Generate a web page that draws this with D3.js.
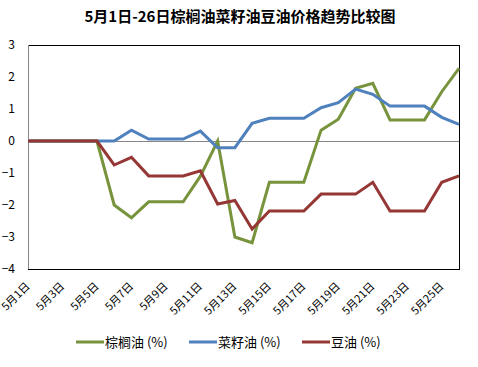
<!DOCTYPE html>
<html><head><meta charset="utf-8">
<script src="https://cdn.jsdelivr.net/npm/d3@7"></script>
<style>body{margin:0;background:#fff}svg{display:block}</style>
</head><body>
<script>
const days = d3.range(1, 27).map(d => "5月" + d + "日");
const palm = [0,0,0,0,0,-2.0,-2.4,-1.9,-1.9,-1.9,-1.1,0,-3.0,-3.18,-1.29,-1.29,-1.29,0.34,0.68,1.65,1.8,0.66,0.66,0.66,1.54,2.27];
const rapeseed = [0,0,0,0,0,0,0.34,0.06,0.06,0.06,0.31,-0.21,-0.21,0.55,0.71,0.71,0.71,1.04,1.2,1.62,1.46,1.09,1.09,1.09,0.74,0.52];
const soy = [0,0,0,0,0,-0.75,-0.51,-1.09,-1.09,-1.09,-0.93,-1.97,-1.86,-2.75,-2.19,-2.19,-2.19,-1.66,-1.66,-1.66,-1.29,-2.19,-2.19,-2.19,-1.29,-1.09];
const yTicks = [3,2,1,0,-1,-2,-3,-4];
const seriesNames = ["棕榈油 (%)","菜籽油 (%)","豆油 (%)"];
const colors = ["#77933C","#4F81BD","#953735"];
const series = [palm, rapeseed, soy];

const W = 478, H = 367;
const L = 28, R = 459, T = 45, B = 269;
const svg = d3.select("body").append("svg").attr("width", W).attr("height", H);
const font = "'Noto Sans CJK SC','DejaVu Sans',sans-serif";

const x = d3.scalePoint().domain(days).range([L, R]);
const y = d3.scaleLinear().domain([-4, 3]).range([B, T]);

svg.append("text").attr("x", 240).attr("y", 22).attr("text-anchor", "middle")
  .attr("font-family", font).attr("font-weight", "bold").attr("font-size", 15).text("5月1日-26日棕榈油菜籽油豆油价格趋势比较图");

// plot border
svg.append("rect").attr("x", L).attr("y", T).attr("width", R - L).attr("height", B - T)
  .attr("fill", "none").attr("stroke", "#000").attr("stroke-width", 1).attr("shape-rendering", "crispEdges");
svg.append("line").attr("x1", L).attr("x2", L).attr("y1", T).attr("y2", B)
  .attr("stroke", "#868686").attr("shape-rendering", "crispEdges");

// y axis labels
const yAxis = d3.axisLeft(y).tickValues(yTicks).tickSize(0).tickPadding(13).tickFormat(d => d < 0 ? "−" + (-d) : d);
const ya = svg.append("g").attr("transform", `translate(${L},0)`).call(yAxis);
ya.select(".domain").remove();
ya.selectAll("text").attr("font-family", font).attr("font-size", 12).attr("fill", "#000");

// zero line
svg.append("line").attr("x1", L).attr("x2", R).attr("y1", y(0)).attr("y2", y(0))
  .attr("stroke", "#868686").attr("shape-rendering", "crispEdges");

// x labels
const xAxis = d3.axisBottom(x).tickValues(days.filter((d, i) => i % 2 === 0)).tickSize(0);
const xa = svg.append("g").attr("transform", `translate(0,${B})`).call(xAxis);
xa.select(".domain").remove();
xa.selectAll("text").attr("font-family", font).attr("font-size", 11).attr("fill", "#000")
  .attr("text-anchor", "end").attr("dy", null).attr("y", 0)
  .attr("transform", "translate(2,18) rotate(-45)");

// lines
const line = d3.line().x((d, i) => x(days[i])).y(d => y(d));
series.forEach((s, k) => {
  svg.append("path").datum(s).attr("d", line).attr("fill", "none")
    .attr("stroke", colors[k]).attr("stroke-width", 3).attr("stroke-linejoin", "miter");
});

// legend
const lx = [76, 189, 302];
seriesNames.forEach((n, k) => {
  svg.append("line").attr("x1", lx[k]).attr("x2", lx[k] + 28).attr("y1", 342).attr("y2", 342)
    .attr("stroke", colors[k]).attr("stroke-width", 3);
  svg.append("text").attr("x", lx[k] + 29).attr("y", 347).attr("font-family", font)
    .attr("font-size", 13).text(n);
});
</script>
</body></html>
